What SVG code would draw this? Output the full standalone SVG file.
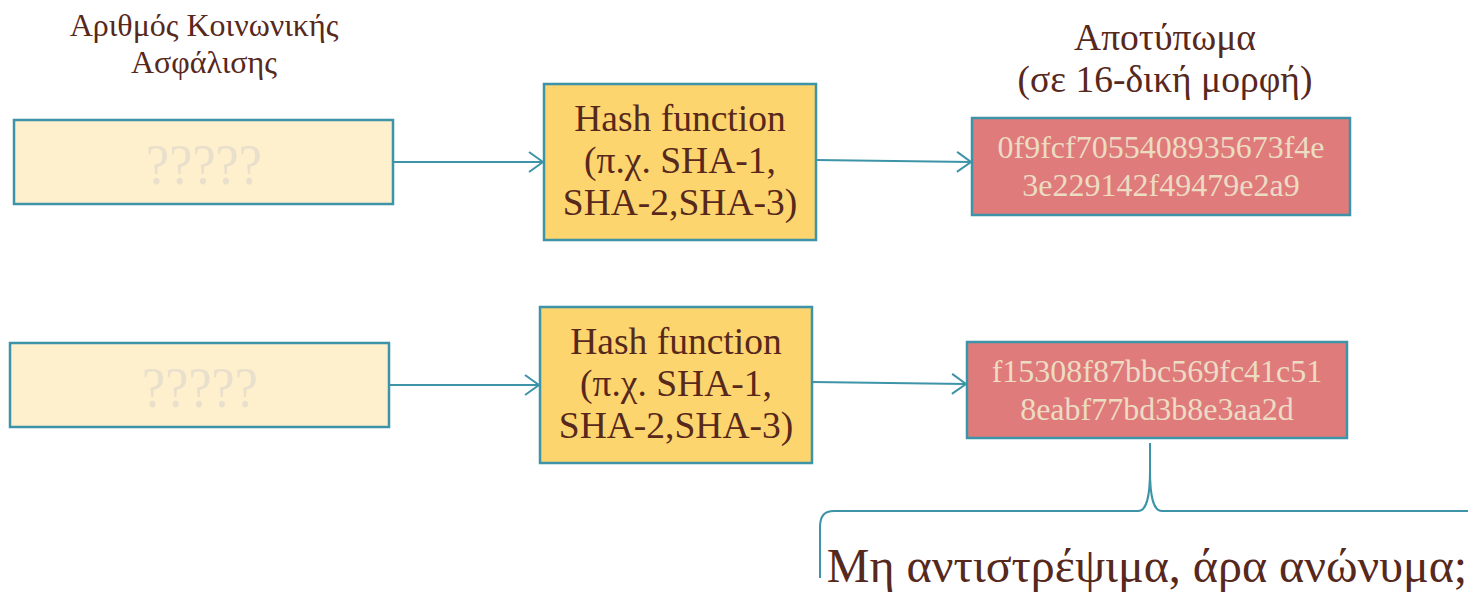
<svg xmlns="http://www.w3.org/2000/svg" width="1468" height="596" viewBox="0 0 1468 596">
<defs>
<style>
.box{stroke:#3d93a8;stroke-width:2.5}
.in{fill:#fef0cc}
.hash{fill:#fdd56e}
.out{fill:#e07b7b}
.t{font-family:"Liberation Serif","Times New Roman",serif;fill:#57281c;text-anchor:middle}
.q{font-family:"Liberation Serif","Times New Roman",serif;fill:#e8dfcc;text-anchor:middle;font-size:56px}
.hx{font-family:"Liberation Serif","Times New Roman",serif;fill:#ecdcc4;text-anchor:middle;font-size:32px}
.conn{fill:none;stroke:#3d93a8;stroke-width:2}
</style>
<marker id="arr" markerUnits="userSpaceOnUse" markerWidth="20" markerHeight="24" refX="15" refY="11" orient="auto">
<path d="M1,1 L15,11 L1,21" fill="none" stroke="#3d93a8" stroke-width="2"/>
</marker>
</defs>
<rect width="1468" height="596" fill="#ffffff"/>

<g id="label-amka">
<text class="t" x="204" y="36" font-size="32">Αριθμός Κοινωνικής</text>
<text class="t" x="204" y="73" font-size="32">Ασφάλισης</text>
</g>
<g id="label-fingerprint">
<text class="t" x="1165" y="50" font-size="37.5">Αποτύπωμα</text>
<text class="t" x="1165" y="92" font-size="37.5">(σε 16-δική μορφή)</text>
</g>

<g id="input1">
<rect class="box in" x="14" y="120" width="379" height="84"/>
<text class="q" x="204" y="184" textLength="116" lengthAdjust="spacingAndGlyphs">?????</text>
</g>
<g id="hash1">
<rect class="box hash" x="544" y="84" width="272" height="156"/>
<text class="t" x="680" y="131" font-size="37.5">Hash function</text>
<text class="t" x="680" y="173" font-size="37.5">(π.χ. SHA-1,</text>
<text class="t" x="680" y="215" font-size="37.5">SHA-2,SHA-3)</text>
</g>
<g id="out1">
<rect class="box out" x="972" y="118" width="378" height="97"/>
<text class="hx" x="1161" y="158">0f9fcf7055408935673f4e</text>
<text class="hx" x="1161" y="196">3e229142f49479e2a9</text>
</g>

<g id="input2">
<rect class="box in" x="10" y="343" width="379" height="84"/>
<text class="q" x="200" y="407" textLength="116" lengthAdjust="spacingAndGlyphs">?????</text>
</g>
<g id="hash2">
<rect class="box hash" x="540" y="307" width="272" height="156"/>
<text class="t" x="676" y="354" font-size="37.5">Hash function</text>
<text class="t" x="676" y="396" font-size="37.5">(π.χ. SHA-1,</text>
<text class="t" x="676" y="438" font-size="37.5">SHA-2,SHA-3)</text>
</g>
<g id="out2">
<rect class="box out" x="967" y="342" width="380" height="96"/>
<text class="hx" x="1157" y="382">f15308f87bbc569fc41c51</text>
<text class="hx" x="1157" y="420">8eabf77bd3b8e3aa2d</text>
</g>

<g id="note">
<text class="t" x="1147" y="582" font-size="48">Μη αντιστρέψιμα, άρα ανώνυμα;</text>
</g>

<g id="connectors">
<line class="conn" x1="393" y1="162" x2="543" y2="162" marker-end="url(#arr)"/>
<line class="conn" x1="816" y1="160" x2="971" y2="162" marker-end="url(#arr)"/>
<line class="conn" x1="389" y1="385" x2="539" y2="385" marker-end="url(#arr)"/>
<line class="conn" x1="812" y1="382" x2="966" y2="384" marker-end="url(#arr)"/>
<path class="conn" d="M1150,443 L1150,470 C1150,500 1146,511 1138,511 L834,511 C824,511 820,516 820,528 L820,578"/>
<path class="conn" d="M1150,470 C1150,500 1154,511 1162,511 L1468,511"/>
</g>
</svg>
